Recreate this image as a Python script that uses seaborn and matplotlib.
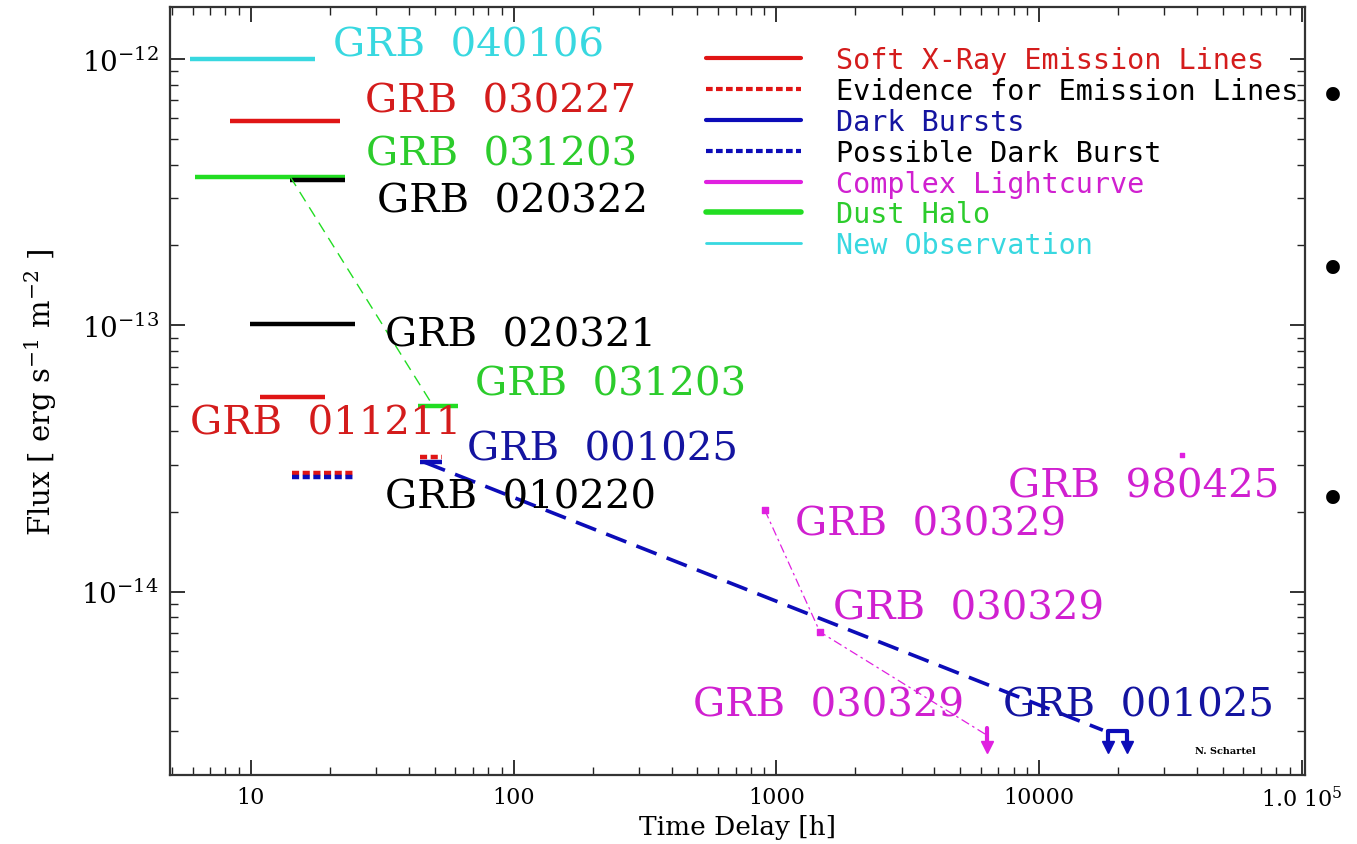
import numpy as np
import pandas as pd
import seaborn as sns
import matplotlib.pyplot as plt
from matplotlib.lines import Line2D
from matplotlib.ticker import FixedLocator, FixedFormatter, LogLocator, NullFormatter

# colours used in the original slide
CYAN = "#38d8e0"
RED = "#e01515"
GREEN = "#22dd22"
BLUE = "#0c0cb8"
MAGENTA = "#e020e0"
BLACK = "#000000"

# horizontal flux bars (time range in h, flux in erg s^-1 m^-2)
bar_start = [5.86, 8.32, 6.12, 14.1, 9.9, 10.8, 43.2, 14.3, 14.3, 44.0, 44.0]
bar_end = [17.5, 21.8, 22.8, 22.8, 24.9, 19.1, 61.4, 24.9, 24.9, 53.3, 53.3]
bar_flux = [1.0e-12, 5.84e-13, 3.62e-13, 3.53e-13, 1.01e-13, 5.38e-14, 5.0e-14,
            2.78e-14, 2.69e-14, 3.20e-14, 3.06e-14]
bar_color = [CYAN, RED, GREEN, BLACK, BLACK, RED, GREEN, RED, BLUE, RED, BLUE]
bar_dotted = [False, False, False, False, False, False, False, True, True, True, False]

# decay tracks between observations
green_t = [14.1, 48.9]
green_f = [3.62e-13, 5.06e-14]
blue_t = [45.9, 17500]
blue_f = [3.06e-14, 3.02e-15]
magenta_t = [905, 1466, 6340]
magenta_f = [2.02e-14, 7.06e-15, 2.89e-15]

# upper limits (arrows pointing down)
blue_lim_t = [18300, 21600]
lim_top = 3.0e-15
lim_bottom = 2.6e-15
magenta_lim_t = [6340]

# single point for GRB 980425
pt_t = [35000]
pt_f = [3.25e-14]

# burst labels
label_text = ["GRB 040106", "GRB 030227", "GRB 031203", "GRB 020322", "GRB 020321",
              "GRB 031203", "GRB 011211", "GRB 001025", "GRB 010220", "GRB 980425",
              "GRB 030329", "GRB 030329", "GRB 030329", "GRB 001025"]
label_t = [20.5, 27.2, 27.4, 30.2, 32.4, 71.3, 5.86, 66.4, 32.4, 7620, 1178, 1640, 482, 7290]
label_f = [1.13e-12, 6.95e-13, 4.39e-13, 2.94e-13, 9.2e-14, 6.03e-14, 4.3e-14, 3.43e-14,
           2.26e-14, 2.49e-14, 1.79e-14, 8.7e-15, 3.75e-15, 3.75e-15]
label_color = [CYAN, "#d41c1c", "#2ccc2c", BLACK, BLACK, "#2ccc2c", "#d41c1c", "#1414a0",
               BLACK, "#d020d0", "#d020d0", "#d020d0", "#d020d0", "#1414a0"]

legend_labels = ["Soft X-Ray Emission Lines", "Evidence for Emission Lines", "Dark Bursts",
                 "Possible Dark Burst", "Complex Lightcurve", "Dust Halo", "New Observation"]
legend_colors = [RED, RED, BLUE, BLUE, MAGENTA, GREEN, CYAN]
legend_text_colors = ["#d41c1c", BLACK, "#1414a0", BLACK, "#d020d0", "#2ccc2c", CYAN]
legend_dotted = [False, True, False, True, False, False, False]
legend_width = [3, 3, 3, 3, 3, 4, 2]

xticks = [10, 100, 1000, 10000, 1e5]
xtick_labels = ["10", "100", "1000", "10000", "1.0 $10^5$"]
yticks = [1e-14, 1e-13, 1e-12]
ytick_labels = ["$10^{-14}$", "$10^{-13}$", "$10^{-12}$"]


sns.set_style("ticks")
plt.rcParams["font.family"] = ["DejaVu Serif"]
plt.rcParams["mathtext.fontset"] = "dejavuserif"
plt.rcParams["text.color"] = "black"

fig = plt.figure(figsize=(13.57, 8.45), dpi=100)
ax = fig.add_axes([0.1253, 0.0817, 0.8364, 0.9089])

dot_style = (0, (1.6, 0.8))
for x0, x1, f, c, dotted in zip(bar_start, bar_end, bar_flux, bar_color, bar_dotted):
    ax.hlines(f, x0, x1, color=c, lw=3.2, linestyles=dot_style if dotted else "solid")

tracks = pd.DataFrame({
    "t": green_t + blue_t + magenta_t,
    "flux": green_f + blue_f + magenta_f,
    "track": ["green"] * 2 + ["blue"] * 2 + ["magenta"] * 3,
})
sns.lineplot(data=tracks[tracks.track == "green"], x="t", y="flux", sort=False,
             estimator=None, color=GREEN, lw=1.0, linestyle=(0, (8, 5)), ax=ax)
sns.lineplot(data=tracks[tracks.track == "blue"], x="t", y="flux", sort=False,
             estimator=None, color=BLUE, lw=2.6, linestyle=(0, (6, 3)), ax=ax)
sns.lineplot(data=tracks[tracks.track == "magenta"], x="t", y="flux", sort=False,
             estimator=None, color=MAGENTA, lw=0.9, linestyle=(0, (7, 3, 2, 3)), ax=ax)
ax.scatter(magenta_t[:2], magenta_f[:2], marker="s", s=14, color=MAGENTA, zorder=3)
ax.scatter(pt_t, pt_f, marker="s", s=9, color=MAGENTA, zorder=3)

# upper limit arrows
ax.plot([blue_lim_t[0], blue_lim_t[0], blue_lim_t[1], blue_lim_t[1]],
        [lim_bottom, lim_top, lim_top, lim_bottom], color=BLUE, lw=3)
ax.plot(blue_lim_t, [lim_bottom] * 2, "v", color=BLUE, ms=8)
for t in magenta_lim_t:
    ax.plot([t, t], [lim_top * 1.03, lim_bottom], color=MAGENTA, lw=3)
    ax.plot([t], [lim_bottom], "v", color=MAGENTA, ms=8)

for txt, t, f, c in zip(label_text, label_t, label_f, label_color):
    ax.text(t, f, txt.replace(" ", "  "), color=c, fontsize=29, ha="left", va="center")
ax.text(39200, 2.54e-15, "N. Schartel", fontsize=7, fontweight="bold", ha="left", va="center")

handles = [Line2D([], [], color=c, lw=w, linestyle=dot_style if d else "solid")
           for c, d, w in zip(legend_colors, legend_dotted, legend_width)]
leg = ax.legend(handles, legend_labels, loc="upper left", bbox_to_anchor=(0.4724, 0.949),
                frameon=False, prop={"family": "DejaVu Sans Mono", "size": 20.5},
                handlelength=3.33, handletextpad=1.23, labelspacing=0.1,
                borderpad=0, borderaxespad=0)
for text, c in zip(leg.get_texts(), legend_text_colors):
    text.set_color(c)

ax.set_xscale("log")
ax.set_yscale("log")
ax.set_xlim(4.92, 1.03e5)
ax.set_ylim(2.05e-15, 1.57e-12)
ax.xaxis.set_major_locator(FixedLocator(xticks))
ax.xaxis.set_major_formatter(FixedFormatter(xtick_labels))
ax.xaxis.set_minor_locator(LogLocator(base=10, subs=np.arange(2, 10)))
ax.xaxis.set_minor_formatter(NullFormatter())
ax.yaxis.set_major_locator(FixedLocator(yticks))
ax.yaxis.set_major_formatter(FixedFormatter(ytick_labels))
ax.yaxis.set_minor_locator(LogLocator(base=10, subs=np.arange(2, 10), numticks=10))
ax.yaxis.set_minor_formatter(NullFormatter())
ax.tick_params(which="both", direction="in", top=True, right=True, color="#222222",
               labelcolor="black")
ax.tick_params(which="major", length=11, width=1.3)
ax.tick_params(which="minor", length=6, width=1.0)
ax.tick_params(axis="x", which="major", labelsize=16, pad=8)
ax.tick_params(axis="y", which="major", labelsize=20, pad=8)
for s in ax.spines.values():
    s.set_linewidth(1.6)
    s.set_color("#333333")

ax.set_xlabel("Time Delay [h]", fontsize=19, labelpad=2, color="black")
ax.set_ylabel("Flux [ erg s$^{-1}$ m$^{-2}$ ]", fontsize=21, labelpad=16, color="black")

for yb in [98, 271, 501]:
    fig.text(1333 / 1357, 1 - yb / 845, "\u2022", fontsize=34, ha="center", va="center",
             color="black")

plt.savefig("out.png", dpi=100)
